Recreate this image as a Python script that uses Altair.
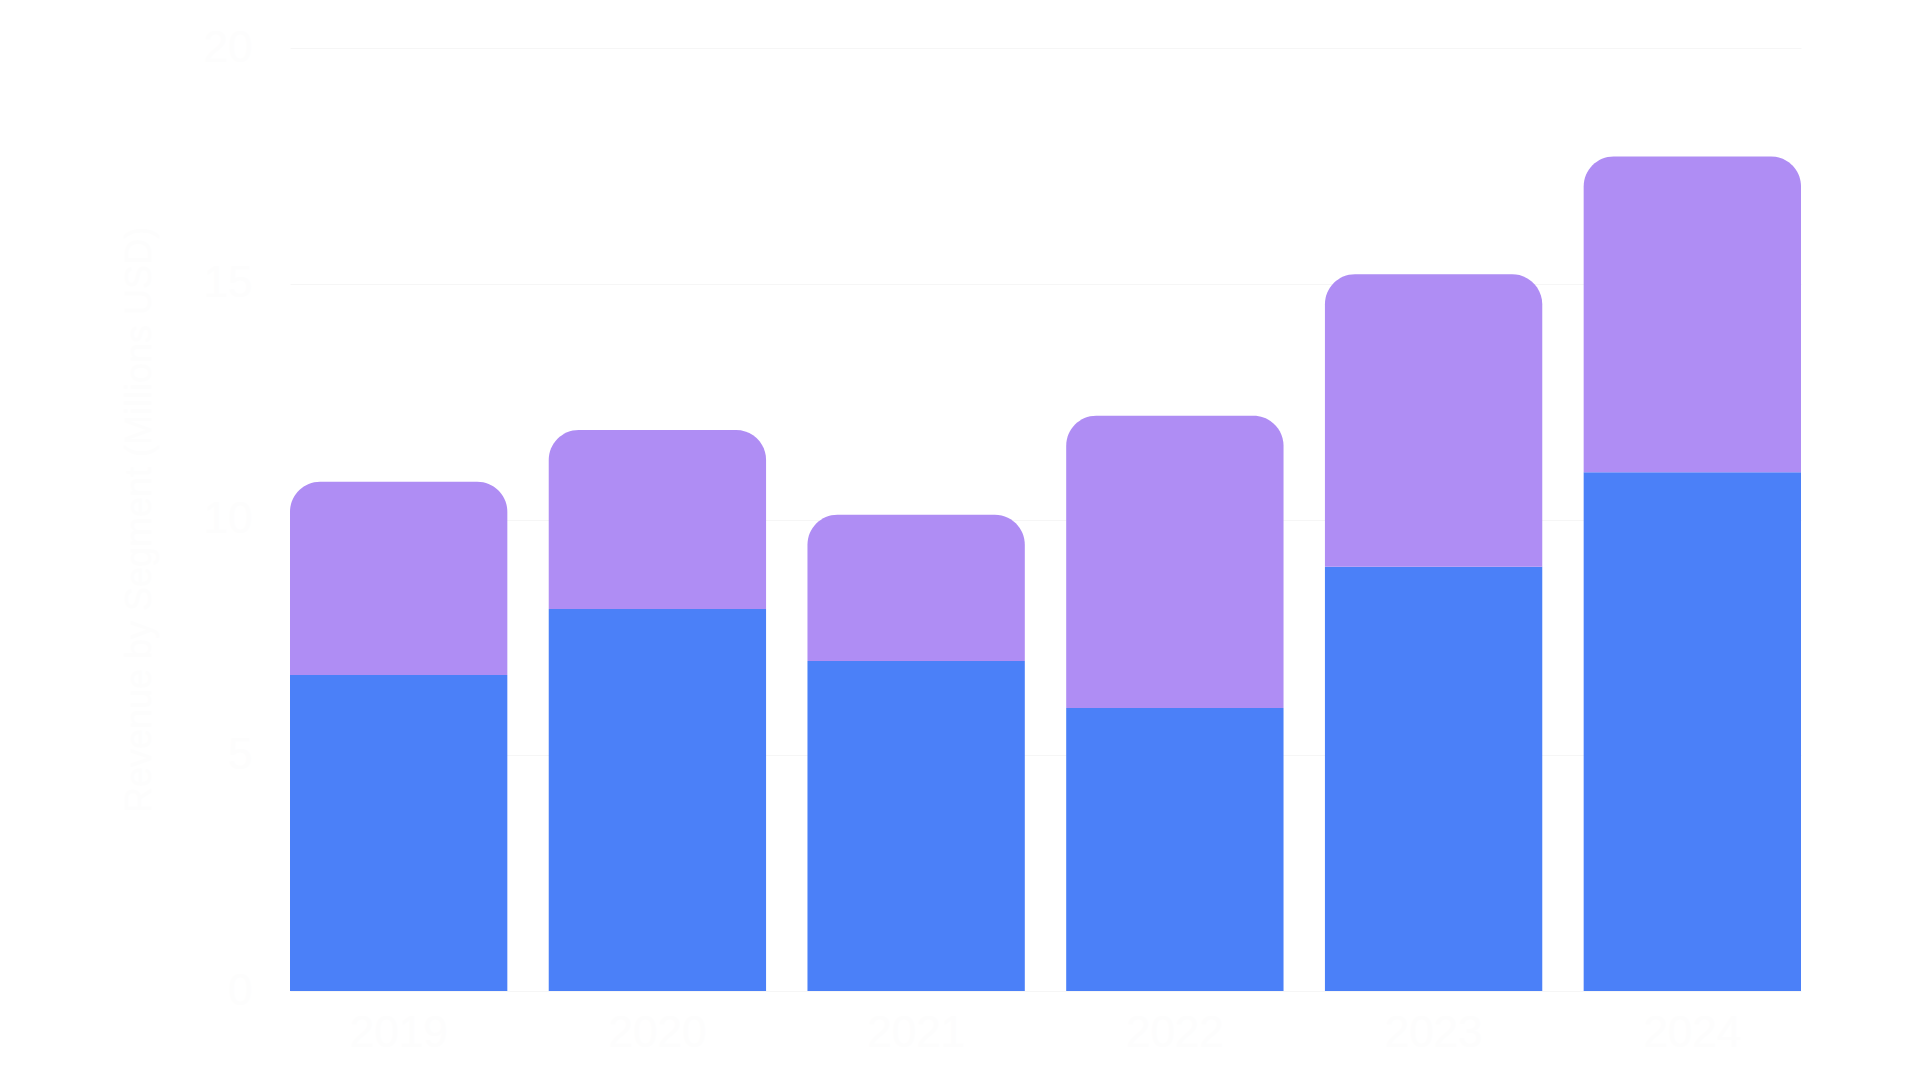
import pandas as pd
import altair as alt

# values
years = ["2019", "2020", "2021", "2022", "2023", "2024"]
base_values = [6.7, 8.1, 7.0, 6.0, 9.0, 11.0]
extra_values = [4.1, 3.8, 3.1, 6.2, 6.2, 6.7]

df = pd.DataFrame({"Year": years, "Base": base_values, "Extra": extra_values})
df["Total"] = df["Base"] + df["Extra"]

text_color = "#fdfdfd"

x_enc = alt.X("Year:N", sort=years,
              scale=alt.Scale(paddingInner=0.16, paddingOuter=0),
              axis=alt.Axis(title=None, labelAngle=0, labelFontSize=44, labelColor=text_color,
                            labelPadding=20, ticks=False, domain=False, grid=False))

y_axis = alt.Axis(title="Revenue by Segment (Millions USD)", titleFontSize=36, titleColor=text_color,
                  titleFontWeight="normal", titlePadding=45,
                  labelFontSize=44, labelColor=text_color, labelPadding=38,
                  ticks=False, domain=False, values=[0, 5, 10, 15, 20],
                  gridColor="#f6f6f6", gridWidth=1)

base = alt.Chart(df).mark_bar(color="#4B80F8").encode(
    x=x_enc,
    y=alt.Y("Base:Q", scale=alt.Scale(domain=[0, 20]), axis=y_axis),
    tooltip=["Year", "Base"]
)

extra = alt.Chart(df).mark_bar(color="#AF8DF4", cornerRadiusTopLeft=30, cornerRadiusTopRight=30).encode(
    x=x_enc,
    y=alt.Y("Total:Q"),
    y2="Base:Q",
    tooltip=["Year", "Extra"]
)

chart = alt.layer(base, extra).properties(
    width=1511,
    height=943,
    autosize=alt.AutoSizeParams(type="none"),
    padding={"left": 282, "top": 40, "right": 100, "bottom": 75},
    background="white"
).configure_view(stroke=None)

chart.save("out.html", embed_options={"renderer": "svg", "actions": False})
